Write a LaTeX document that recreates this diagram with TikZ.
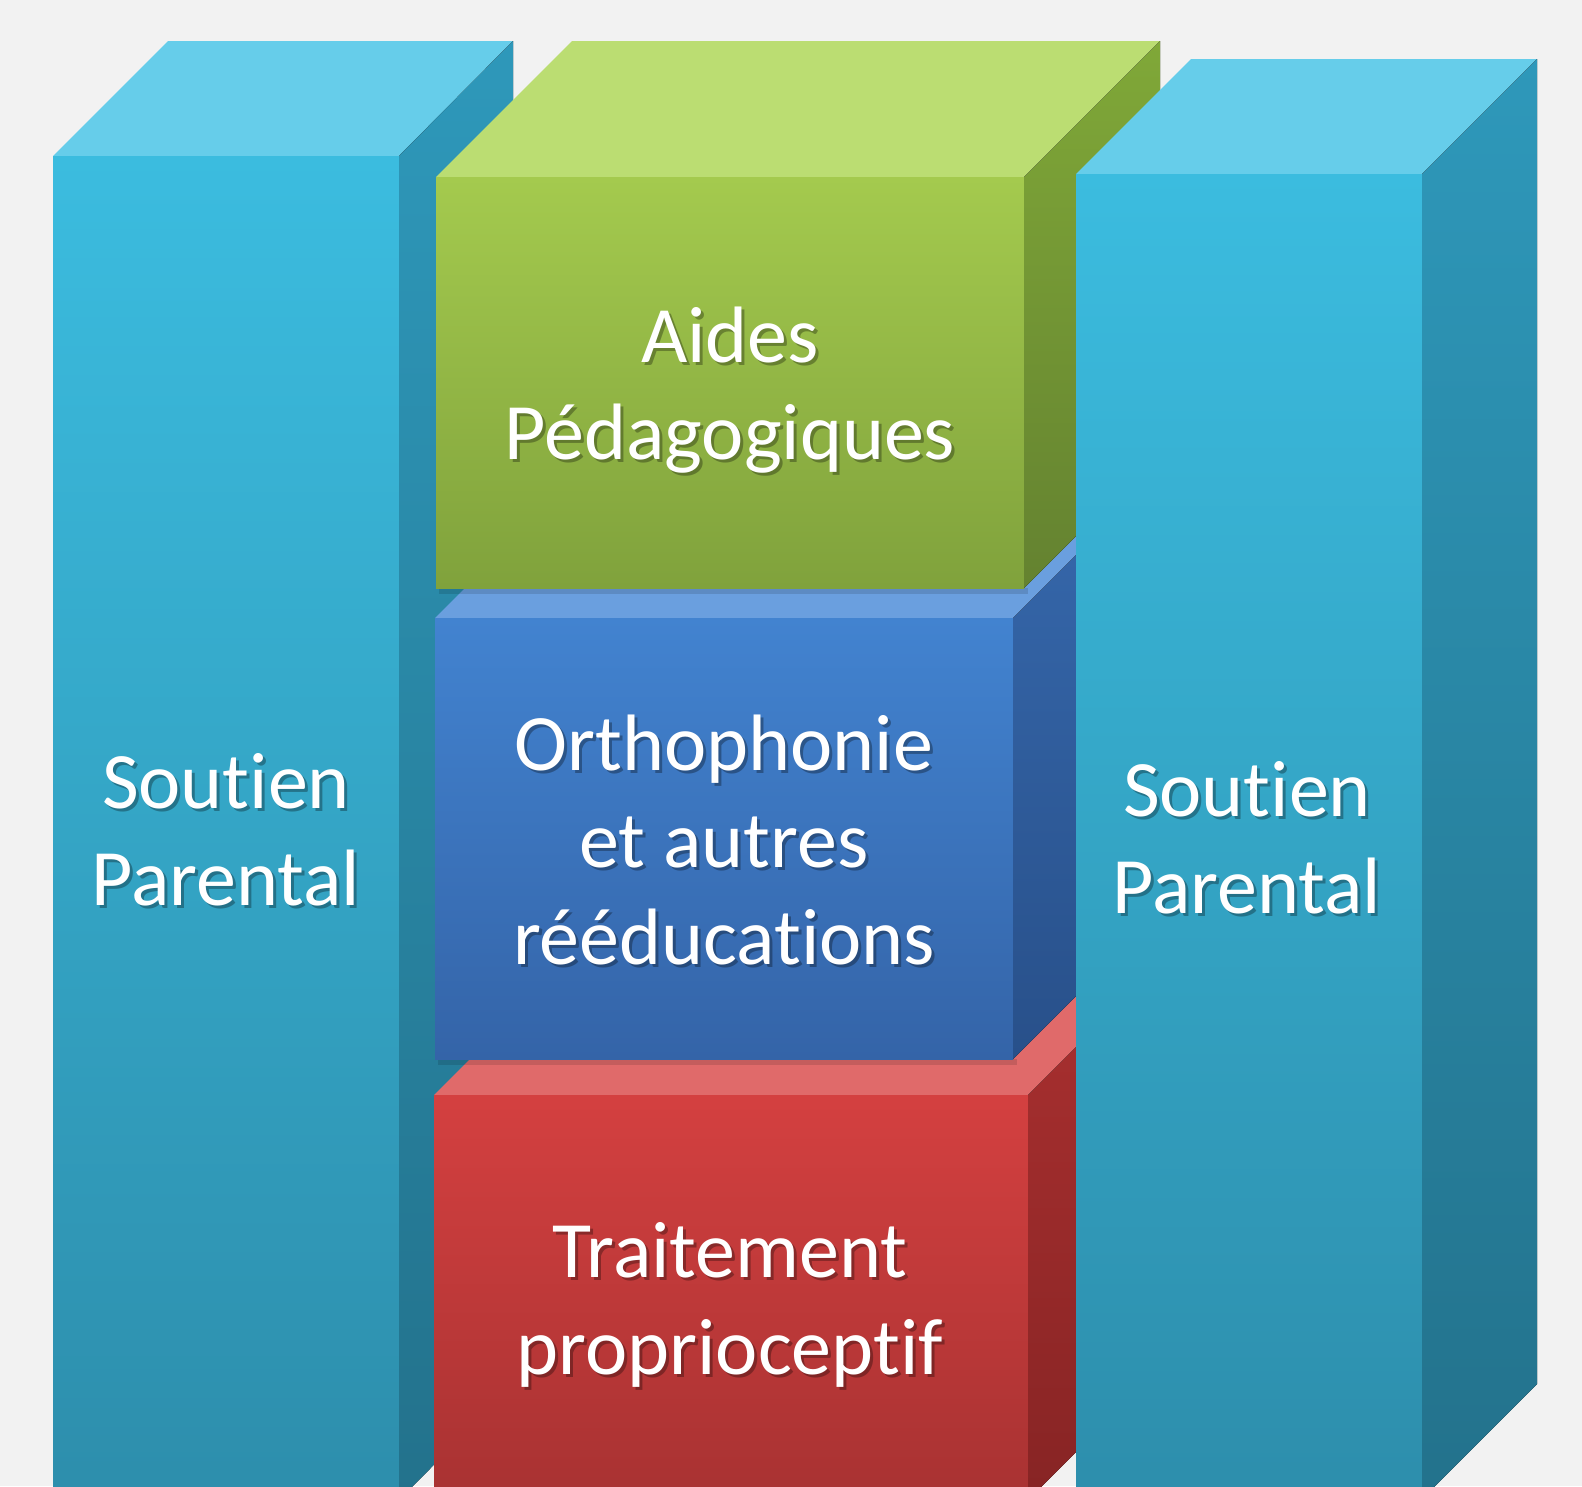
\documentclass[tikz,border=0pt]{standalone}
\usepackage{fontspec}
\setmainfont[Ligatures={NoCommon}]{Carlito}
\definecolor{pBack}{RGB}{242,242,242}
\definecolor{pCyanTop}{RGB}{102,205,234}
\definecolor{pCyanHi}{RGB}{59,188,223}
\definecolor{pCyanLo}{RGB}{45,142,172}
\definecolor{pCyanSideHi}{RGB}{46,152,186}
\definecolor{pCyanSideLo}{RGB}{35,114,140}
\definecolor{pGreenTop}{RGB}{187,221,114}
\definecolor{pGreenHi}{RGB}{164,202,78}
\definecolor{pGreenLo}{RGB}{128,162,60}
\definecolor{pGreenSideHi}{RGB}{128,168,56}
\definecolor{pGreenSideLo}{RGB}{100,130,48}
\definecolor{pBlueTop}{RGB}{106,159,223}
\definecolor{pBlueHi}{RGB}{66,131,208}
\definecolor{pBlueLo}{RGB}{52,100,168}
\definecolor{pBlueSideHi}{RGB}{54,104,172}
\definecolor{pBlueSideLo}{RGB}{40,80,138}
\definecolor{pRedTop}{RGB}{224,106,106}
\definecolor{pRedHi}{RGB}{212,64,64}
\definecolor{pRedLo}{RGB}{168,50,50}
\definecolor{pRedSideHi}{RGB}{170,48,48}
\definecolor{pRedSideLo}{RGB}{135,36,36}
\tikzset{
    lbl/.style={align=center, text=white, inner sep=0pt, anchor=base,
        font=\fontsize{80}{97}\selectfont},
    shd/.style={lbl, text=black, opacity=0.3},
    drop/.style={black, opacity=0.12}
}

\begin{document}
\begin{tikzpicture}[x=1pt,y=-1pt]
\useasboundingbox (0,0) rectangle (1582,1486);
\fill[pBack] (0,0) rectangle (1582,1486);
\clip (0,0) rectangle (1582,1486);
\fill[pCyanTop] (53,156)--(168,41)--(513,41)--(399,156)--cycle;
\fill[top color=pCyanHi,bottom color=pCyanLo] (53,156) rectangle (399,1500);
\fill[top color=pCyanSideHi,bottom color=pCyanSideLo] (399,156)--(513,41)--(513,1385)--(399,1500)--cycle;
\fill[pRedTop] (434,1095)--(570,959)--(1164,959)--(1028,1095)--cycle;
\fill[top color=pRedHi,bottom color=pRedLo] (434,1095) rectangle (1028,1500);
\fill[top color=pRedSideHi,bottom color=pRedSideLo] (1028,1095)--(1164,959)--(1164,1364)--(1028,1500)--cycle;
\fill[drop] (438,1059) rectangle (1017,1065);
\fill[pBlueTop] (435,618)--(571,482)--(1149,482)--(1013,618)--cycle;
\fill[top color=pBlueHi,bottom color=pBlueLo] (435,618) rectangle (1013,1059);
\fill[top color=pBlueSideHi,bottom color=pBlueSideLo] (1013,618)--(1149,482)--(1149,923)--(1013,1059)--cycle;
\fill[drop] (439,588) rectangle (1028,594);
\fill[pGreenTop] (436,177)--(572,41)--(1160,41)--(1024,177)--cycle;
\fill[top color=pGreenHi,bottom color=pGreenLo] (436,177) rectangle (1024,588);
\fill[top color=pGreenSideHi,bottom color=pGreenSideLo] (1024,177)--(1160,41)--(1160,452)--(1024,588)--cycle;
\fill[pCyanTop] (1076,174)--(1191,59)--(1537,59)--(1422,174)--cycle;
\fill[top color=pCyanHi,bottom color=pCyanLo] (1076,174) rectangle (1422,1500);
\fill[top color=pCyanSideHi,bottom color=pCyanSideLo] (1422,174)--(1537,59)--(1537,1384)--(1422,1499)--cycle;
\node[shd] (leftS) at (229,908) {Soutien\\Parental};
\node[lbl] (left) at (226,905) {Soutien\\Parental};
\node[shd] (rightS) at (1250,916) {Soutien\\Parental};
\node[lbl] (right) at (1247,913) {Soutien\\Parental};
\node[shd] (aidesS) at (733,462) {Aides\\Pédagogiques};
\node[lbl] (aides) at (730,459) {Aides\\Pédagogiques};
\node[shd] (orthoS) at (727,967) {Orthophonie\\et autres\\rééducations};
\node[lbl] (ortho) at (724,964) {Orthophonie\\et autres\\rééducations};
\node[shd] (traitS) at (733,1377) {Traitement\\proprioceptif};
\node[lbl] (trait) at (730,1374) {Traitement\\proprioceptif};
\end{tikzpicture}
\end{document}
